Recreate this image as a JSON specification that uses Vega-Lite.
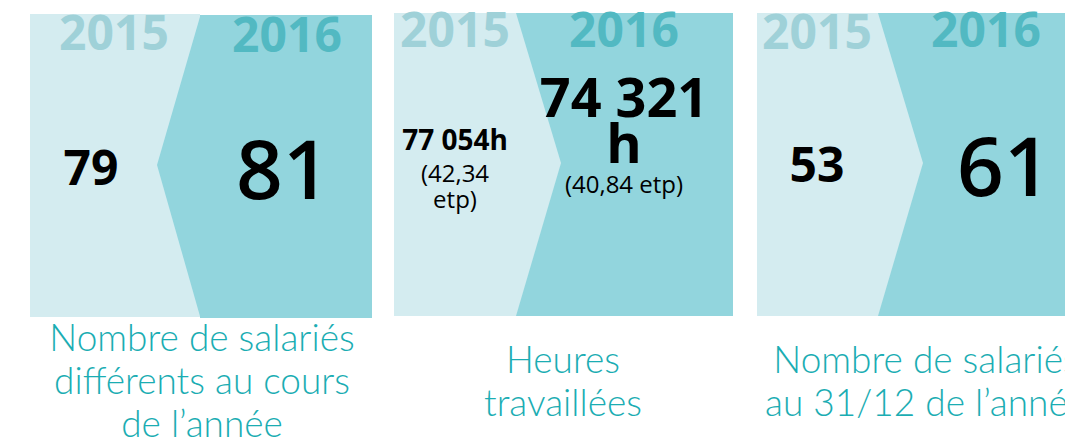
{
  "$schema": "https://vega.github.io/schema/vega-lite/v6.json",
  "width": 1065,
  "height": 440,
  "autosize": {"type": "none"},
  "padding": 0,
  "background": "white",
  "config": {"view": {"stroke": null}},
  "datasets": {
    "boxes": [
      {"shade": "light", "x": 30, "x2": 200, "y": 14, "y2": 317},
      {"shade": "dark", "x": 200, "x2": 372, "y": 15, "y2": 318},
      {"shade": "light", "x": 394, "x2": 733, "y": 13, "y2": 316},
      {"shade": "dark", "x": 516, "x2": 733, "y": 13, "y2": 316},
      {"shade": "light", "x": 757, "x2": 1065, "y": 13, "y2": 316},
      {"shade": "dark", "x": 878, "x2": 1065, "y": 13, "y2": 316}
    ],
    "tips": [
      {"panel": 1, "shade": "dark", "x": 157, "y": 165, "y2": 165},
      {"panel": 1, "shade": "dark", "x": 200.5, "y": 15, "y2": 318},
      {"panel": 2, "shade": "light", "x": 516, "y": 13, "y2": 316},
      {"panel": 2, "shade": "light", "x": 561, "y": 163, "y2": 163},
      {"panel": 3, "shade": "light", "x": 878, "y": 13, "y2": 316},
      {"panel": 3, "shade": "light", "x": 923, "y": 163, "y2": 163}
    ],
    "labels": [
      {"kind": "y15", "text": "2015", "x": 114, "y": 50},
      {"kind": "y15", "text": "2015", "x": 455, "y": 47},
      {"kind": "y15", "text": "2015", "x": 817, "y": 49},
      {"kind": "y16", "text": "2016", "x": 287, "y": 52},
      {"kind": "y16", "text": "2016", "x": 624, "y": 47},
      {"kind": "y16", "text": "2016", "x": 986, "y": 47},
      {"kind": "v15", "text": "79", "x": 91, "y": 185},
      {"kind": "v15", "text": "53", "x": 817, "y": 182},
      {"kind": "v16", "text": "81", "x": 283, "y": 199},
      {"kind": "v16", "text": "61", "x": 1004, "y": 196},
      {"kind": "h15", "text": "77 054h", "x": 455, "y": 150},
      {"kind": "hs", "text": "(42,34", "x": 455, "y": 182},
      {"kind": "hs", "text": "etp)", "x": 455, "y": 208},
      {"kind": "h16", "text": "74 321", "x": 624, "y": 117},
      {"kind": "h16", "text": "h", "x": 624, "y": 163},
      {"kind": "hs", "text": "(40,84 etp)", "x": 624, "y": 193},
      {"kind": "title", "text": "Nombre de salariés", "x": 202, "y": 351},
      {"kind": "title", "text": "différents au cours", "x": 202, "y": 394},
      {"kind": "title", "text": "de l’année", "x": 202, "y": 437},
      {"kind": "title", "text": "Heures", "x": 563, "y": 373},
      {"kind": "title", "text": "travaillées", "x": 563, "y": 416},
      {"kind": "title", "text": "Nombre de salariés", "x": 926, "y": 373},
      {"kind": "title", "text": "au 31/12 de l’année", "x": 926, "y": 416}
    ]
  },
  "encoding": {
    "x": {"field": "x", "type": "quantitative", "axis": null, "scale": {"domain": [0, 1065], "nice": false, "zero": false}},
    "y": {"field": "y", "type": "quantitative", "axis": null, "scale": {"domain": [0, 440], "nice": false, "zero": false, "reverse": true}}
  },
  "layer": [
    {
      "data": {"name": "boxes"},
      "transform": [{"filter": "datum.shade === 'light'"}],
      "mark": {"type": "rect", "color": "#d4ecf0"},
      "encoding": {"x2": {"field": "x2"}, "y2": {"field": "y2"}}
    },
    {
      "data": {"name": "boxes"},
      "transform": [{"filter": "datum.shade === 'dark'"}],
      "mark": {"type": "rect", "color": "#92d5dd"},
      "encoding": {"x2": {"field": "x2"}, "y2": {"field": "y2"}}
    },
    {
      "data": {"name": "tips"},
      "transform": [{"filter": "datum.shade === 'dark'"}],
      "mark": {"type": "area", "color": "#92d5dd", "opacity": 1},
      "encoding": {
        "y": {"field": "y", "type": "quantitative", "stack": null, "axis": null, "scale": {"domain": [0, 440], "nice": false, "zero": false, "reverse": true}},
        "y2": {"field": "y2"},
        "detail": {"field": "panel"}
      }
    },
    {
      "data": {"name": "tips"},
      "transform": [{"filter": "datum.shade === 'light'"}],
      "mark": {"type": "area", "color": "#d4ecf0", "opacity": 1},
      "encoding": {
        "y": {"field": "y", "type": "quantitative", "stack": null, "axis": null, "scale": {"domain": [0, 440], "nice": false, "zero": false, "reverse": true}},
        "y2": {"field": "y2"},
        "detail": {"field": "panel"}
      }
    },
    {
      "data": {"name": "labels"},
      "transform": [{"filter": "datum.kind === 'y15'"}],
      "mark": {"type": "text", "font": "Open Sans", "fontWeight": "bold", "fontSize": 48, "color": "#9fd1d8", "baseline": "alphabetic", "align": "center"},
      "encoding": {"text": {"field": "text"}}
    },
    {
      "data": {"name": "labels"},
      "transform": [{"filter": "datum.kind === 'y16'"}],
      "mark": {"type": "text", "font": "Open Sans", "fontWeight": "bold", "fontSize": 48, "color": "#52b9c2", "baseline": "alphabetic", "align": "center"},
      "encoding": {"text": {"field": "text"}}
    },
    {
      "data": {"name": "labels"},
      "transform": [{"filter": "datum.kind === 'v15'"}],
      "mark": {"type": "text", "font": "Open Sans", "fontWeight": "bold", "fontSize": 48, "color": "#000000", "baseline": "alphabetic", "align": "center"},
      "encoding": {"text": {"field": "text"}}
    },
    {
      "data": {"name": "labels"},
      "transform": [{"filter": "datum.kind === 'v16'"}],
      "mark": {"type": "text", "font": "Open Sans", "fontWeight": 600, "fontSize": 82, "color": "#000000", "baseline": "alphabetic", "align": "center"},
      "encoding": {"text": {"field": "text"}}
    },
    {
      "data": {"name": "labels"},
      "transform": [{"filter": "datum.kind === 'h15'"}],
      "mark": {"type": "text", "font": "Open Sans", "fontWeight": "bold", "fontSize": 28, "color": "#000000", "baseline": "alphabetic", "align": "center"},
      "encoding": {"text": {"field": "text"}}
    },
    {
      "data": {"name": "labels"},
      "transform": [{"filter": "datum.kind === 'h16'"}],
      "mark": {"type": "text", "font": "Open Sans", "fontWeight": "bold", "fontSize": 54, "color": "#000000", "baseline": "alphabetic", "align": "center"},
      "encoding": {"text": {"field": "text"}}
    },
    {
      "data": {"name": "labels"},
      "transform": [{"filter": "datum.kind === 'hs'"}],
      "mark": {"type": "text", "font": "Open Sans", "fontSize": 24, "color": "#000000", "baseline": "alphabetic", "align": "center"},
      "encoding": {"text": {"field": "text"}}
    },
    {
      "data": {"name": "labels"},
      "transform": [{"filter": "datum.kind === 'title'"}],
      "mark": {"type": "text", "font": "Lato", "fontWeight": 300, "fontSize": 37, "color": "#1badb3", "baseline": "alphabetic", "align": "center"},
      "encoding": {"text": {"field": "text"}}
    }
  ]
}
